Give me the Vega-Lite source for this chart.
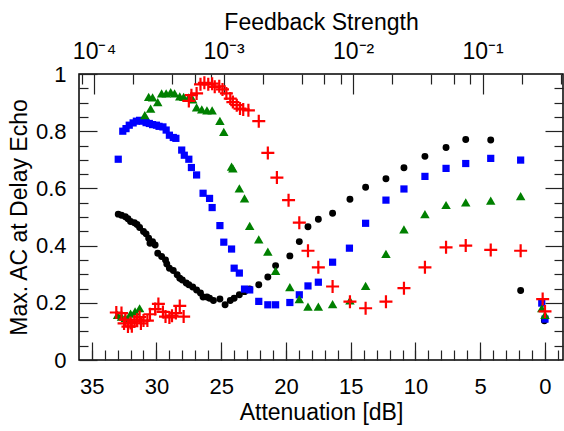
{
  "$schema": "https://vega.github.io/schema/vega-lite/v6.json",
  "width": 484,
  "height": 286,
  "autosize": {"type": "none"},
  "padding": {"left": 79, "top": 74, "right": 1, "bottom": 71},
  "background": "white",
  "config": {
    "view": {"stroke": "#000000", "strokeWidth": 1.5},
    "font": "Liberation Sans",
    "axis": {
      "domain": false, "grid": false,
      "labelFont": "Liberation Sans", "titleFont": "Liberation Sans",
      "labelFontSize": 22, "titleFontSize": 23, "titleFontWeight": "normal",
      "labelColor": "#000000", "titleColor": "#000000",
      "tickColor": "#222222", "tickWidth": 1.2, "labelFlush": false, "labelOverlap": false
    }
  },
  "datasets": {
    "pts": [
      {"s":"S1","a":32.95,"v":0.510},{"s":"S1","a":32.7,"v":0.506},{"s":"S1","a":32.4,"v":0.501},{"s":"S1","a":32.2,"v":0.494},
      {"s":"S1","a":32.0,"v":0.484},{"s":"S1","a":31.7,"v":0.480},{"s":"S1","a":31.5,"v":0.474},{"s":"S1","a":31.3,"v":0.463},
      {"s":"S1","a":31.0,"v":0.449},{"s":"S1","a":30.8,"v":0.441},{"s":"S1","a":30.6,"v":0.426},{"s":"S1","a":30.5,"v":0.408},
      {"s":"S1","a":30.3,"v":0.414},{"s":"S1","a":30.1,"v":0.402},{"s":"S1","a":29.9,"v":0.373},{"s":"S1","a":29.6,"v":0.362},
      {"s":"S1","a":29.3,"v":0.350},{"s":"S1","a":29.2,"v":0.336},{"s":"S1","a":29.0,"v":0.321},{"s":"S1","a":28.7,"v":0.313},
      {"s":"S1","a":28.4,"v":0.298},{"s":"S1","a":28.2,"v":0.286},{"s":"S1","a":28.0,"v":0.280},{"s":"S1","a":27.7,"v":0.269},
      {"s":"S1","a":27.5,"v":0.263},{"s":"S1","a":27.2,"v":0.255},{"s":"S1","a":26.9,"v":0.245},{"s":"S1","a":26.6,"v":0.234},
      {"s":"S1","a":26.4,"v":0.220},{"s":"S1","a":26.1,"v":0.220},{"s":"S1","a":25.9,"v":0.216},{"s":"S1","a":25.6,"v":0.208},
      {"s":"S1","a":25.1,"v":0.213},{"s":"S1","a":24.7,"v":0.193},{"s":"S1","a":24.3,"v":0.208},{"s":"S1","a":24.0,"v":0.216},
      {"s":"S1","a":23.6,"v":0.228},{"s":"S1","a":23.2,"v":0.239},{"s":"S1","a":22.8,"v":0.248},{"s":"S1","a":22.1,"v":0.263},
      {"s":"S1","a":21.4,"v":0.290},{"s":"S1","a":20.8,"v":0.330},{"s":"S1","a":19.7,"v":0.364},{"s":"S1","a":18.97,"v":0.414},
      {"s":"S1","a":18.3,"v":0.466},{"s":"S1","a":17.5,"v":0.492},{"s":"S1","a":16.4,"v":0.513},{"s":"S1","a":15.06,"v":0.562},
      {"s":"S1","a":13.85,"v":0.604},{"s":"S1","a":12.28,"v":0.634},{"s":"S1","a":10.89,"v":0.672},{"s":"S1","a":9.27,"v":0.712},
      {"s":"S1","a":7.64,"v":0.743},{"s":"S1","a":6.12,"v":0.771},{"s":"S1","a":4.19,"v":0.769},{"s":"S1","a":1.88,"v":0.243},
      {"s":"S1","a":0.05,"v":0.137},

      {"s":"S2","a":32.95,"v":0.702},{"s":"S2","a":32.6,"v":0.800},{"s":"S2","a":32.35,"v":0.809},{"s":"S2","a":32.1,"v":0.821},
      {"s":"S2","a":31.8,"v":0.829},{"s":"S2","a":31.55,"v":0.835},{"s":"S2","a":31.3,"v":0.838},{"s":"S2","a":31.1,"v":0.835},
      {"s":"S2","a":30.8,"v":0.830},{"s":"S2","a":30.55,"v":0.827},{"s":"S2","a":30.3,"v":0.823},{"s":"S2","a":30.0,"v":0.821},
      {"s":"S2","a":29.8,"v":0.817},{"s":"S2","a":29.5,"v":0.815},{"s":"S2","a":29.25,"v":0.804},{"s":"S2","a":29.0,"v":0.786},
      {"s":"S2","a":28.7,"v":0.778},{"s":"S2","a":28.5,"v":0.775},{"s":"S2","a":28.05,"v":0.734},{"s":"S2","a":27.85,"v":0.716},
      {"s":"S2","a":27.5,"v":0.702},{"s":"S2","a":27.3,"v":0.673},{"s":"S2","a":26.9,"v":0.647},{"s":"S2","a":26.4,"v":0.583},
      {"s":"S2","a":25.9,"v":0.565},{"s":"S2","a":25.7,"v":0.533},{"s":"S2","a":25.1,"v":0.470},{"s":"S2","a":24.8,"v":0.412},
      {"s":"S2","a":24.2,"v":0.388},{"s":"S2","a":24.0,"v":0.321},{"s":"S2","a":23.6,"v":0.304},{"s":"S2","a":23.2,"v":0.248},
      {"s":"S2","a":22.8,"v":0.245},{"s":"S2","a":22.1,"v":0.205},{"s":"S2","a":21.4,"v":0.193},{"s":"S2","a":20.8,"v":0.193},
      {"s":"S2","a":19.7,"v":0.201},{"s":"S2","a":18.97,"v":0.228},{"s":"S2","a":18.3,"v":0.259},{"s":"S2","a":17.5,"v":0.272},
      {"s":"S2","a":16.4,"v":0.342},{"s":"S2","a":15.1,"v":0.391},{"s":"S2","a":13.85,"v":0.478},{"s":"S2","a":12.28,"v":0.559},
      {"s":"S2","a":10.89,"v":0.598},{"s":"S2","a":9.27,"v":0.642},{"s":"S2","a":7.64,"v":0.670},{"s":"S2","a":6.12,"v":0.687},
      {"s":"S2","a":4.19,"v":0.705},{"s":"S2","a":1.88,"v":0.699},{"s":"S2","a":0.25,"v":0.199},{"s":"S2","a":0.0,"v":0.143},

      {"s":"S3","a":33.0,"v":0.158},{"s":"S3","a":32.7,"v":0.152},{"s":"S3","a":32.4,"v":0.147},{"s":"S3","a":32.2,"v":0.140},
      {"s":"S3","a":32.0,"v":0.162},{"s":"S3","a":31.65,"v":0.170},{"s":"S3","a":31.3,"v":0.181},{"s":"S3","a":30.9,"v":0.856},
      {"s":"S3","a":30.45,"v":0.879},{"s":"S3","a":30.6,"v":0.920},{"s":"S3","a":30.3,"v":0.918},{"s":"S3","a":29.9,"v":0.902},
      {"s":"S3","a":29.6,"v":0.932},{"s":"S3","a":29.25,"v":0.932},{"s":"S3","a":28.9,"v":0.937},{"s":"S3","a":28.6,"v":0.932},
      {"s":"S3","a":28.2,"v":0.922},{"s":"S3","a":27.9,"v":0.920},{"s":"S3","a":27.5,"v":0.918},{"s":"S3","a":27.2,"v":0.911},
      {"s":"S3","a":26.9,"v":0.883},{"s":"S3","a":26.5,"v":0.876},{"s":"S3","a":26.1,"v":0.873},{"s":"S3","a":25.7,"v":0.873},
      {"s":"S3","a":25.1,"v":0.836},{"s":"S3","a":24.8,"v":0.798},{"s":"S3","a":24.2,"v":0.676},{"s":"S3","a":24.1,"v":0.670},
      {"s":"S3","a":23.6,"v":0.600},{"s":"S3","a":23.2,"v":0.565},{"s":"S3","a":22.8,"v":0.469},{"s":"S3","a":22.1,"v":0.422},
      {"s":"S3","a":21.4,"v":0.379},{"s":"S3","a":20.8,"v":0.312},{"s":"S3","a":19.7,"v":0.255},{"s":"S3","a":18.97,"v":0.213},
      {"s":"S3","a":18.3,"v":0.187},{"s":"S3","a":17.5,"v":0.187},{"s":"S3","a":16.4,"v":0.195},{"s":"S3","a":15.06,"v":0.208},
      {"s":"S3","a":13.85,"v":0.259},{"s":"S3","a":12.28,"v":0.371},{"s":"S3","a":10.89,"v":0.457},{"s":"S3","a":9.27,"v":0.510},
      {"s":"S3","a":7.64,"v":0.542},{"s":"S3","a":6.12,"v":0.551},{"s":"S3","a":4.19,"v":0.557},{"s":"S3","a":1.88,"v":0.573},
      {"s":"S3","a":0.25,"v":0.181},{"s":"S3","a":0.0,"v":0.158},

      {"s":"S4","a":33.1,"v":0.166},{"s":"S4","a":32.7,"v":0.164},{"s":"S4","a":32.5,"v":0.128},{"s":"S4","a":32.4,"v":0.141},
      {"s":"S4","a":32.2,"v":0.117},{"s":"S4","a":32.0,"v":0.129},{"s":"S4","a":31.9,"v":0.118},{"s":"S4","a":31.7,"v":0.135},
      {"s":"S4","a":31.5,"v":0.141},{"s":"S4","a":31.3,"v":0.150},{"s":"S4","a":31.2,"v":0.128},{"s":"S4","a":31.0,"v":0.138},
      {"s":"S4","a":30.7,"v":0.138},{"s":"S4","a":30.5,"v":0.160},{"s":"S4","a":30.1,"v":0.178},{"s":"S4","a":29.85,"v":0.196},
      {"s":"S4","a":29.5,"v":0.168},{"s":"S4","a":29.3,"v":0.152},{"s":"S4","a":29.0,"v":0.149},{"s":"S4","a":28.8,"v":0.155},
      {"s":"S4","a":28.5,"v":0.164},{"s":"S4","a":28.2,"v":0.189},{"s":"S4","a":27.9,"v":0.152},{"s":"S4","a":27.5,"v":0.906},
      {"s":"S4","a":27.3,"v":0.926},{"s":"S4","a":26.9,"v":0.932},{"s":"S4","a":26.6,"v":0.964},{"s":"S4","a":26.3,"v":0.969},
      {"s":"S4","a":26.0,"v":0.964},{"s":"S4","a":25.7,"v":0.966},{"s":"S4","a":25.5,"v":0.955},{"s":"S4","a":25.15,"v":0.957},
      {"s":"S4","a":24.9,"v":0.946},{"s":"S4","a":24.6,"v":0.932},{"s":"S4","a":24.3,"v":0.914},{"s":"S4","a":24.1,"v":0.902},
      {"s":"S4","a":23.8,"v":0.891},{"s":"S4","a":23.55,"v":0.879},{"s":"S4","a":23.3,"v":0.876},{"s":"S4","a":22.9,"v":0.873},
      {"s":"S4","a":22.1,"v":0.835},{"s":"S4","a":21.4,"v":0.724},{"s":"S4","a":20.7,"v":0.638},{"s":"S4","a":19.8,"v":0.559},
      {"s":"S4","a":18.97,"v":0.480},{"s":"S4","a":18.3,"v":0.382},{"s":"S4","a":17.5,"v":0.324},{"s":"S4","a":16.4,"v":0.257},
      {"s":"S4","a":15.06,"v":0.204},{"s":"S4","a":13.85,"v":0.181},{"s":"S4","a":12.28,"v":0.204},{"s":"S4","a":10.89,"v":0.251},
      {"s":"S4","a":9.27,"v":0.324},{"s":"S4","a":7.64,"v":0.394},{"s":"S4","a":6.12,"v":0.400},{"s":"S4","a":4.19,"v":0.385},
      {"s":"S4","a":1.88,"v":0.382},{"s":"S4","a":0.18,"v":0.213},{"s":"S4","a":0.0,"v":0.170}
    ],
    "fb": [{"f": 0.0001, "v": 0}, {"f": 0.1, "v": 1}]
  },
  "layer": [
    {
      "data": {"name": "pts"},
      "encoding": {
        "x": {"field": "a", "type": "quantitative",
          "scale": {"domain": [-1.39, 35.98], "reverse": true, "nice": false, "zero": false},
          "axis": {"orient": "bottom", "values": [0,5,10,15,20,25,30,35], "tickSize": -18, "labelPadding": 34,
                   "title": "Attenuation [dB]", "titlePadding": 4}},
        "y": {"field": "v", "type": "quantitative",
          "scale": {"domain": [0, 1], "nice": false, "zero": false},
          "axis": {"orient": "left", "values": [0,0.2,0.4,0.6,0.8,1], "format": "~g", "tickSize": -18, "labelPadding": 31,
                   "title": "Max. AC at Delay Echo", "titlePadding": 4}}
      },
      "layer": [
        {"transform": [{"filter": "datum.s == 'S1'"}],
         "mark": {"type": "point", "shape": "circle", "filled": true, "size": 48, "color": "#000000", "opacity": 1}},
        {"transform": [{"filter": "datum.s == 'S2'"}],
         "mark": {"type": "point", "shape": "square", "filled": true, "size": 52, "color": "#0000ff", "opacity": 1}},
        {"transform": [{"filter": "datum.s == 'S3'"}],
         "mark": {"type": "point", "shape": "triangle-up", "filled": true, "size": 90, "color": "#008000", "opacity": 1}},
        {"transform": [{"filter": "datum.s == 'S4'"}],
         "mark": {"type": "point", "shape": "M-1,0H1M0,-1V1", "filled": false, "size": 169, "strokeWidth": 2.2, "color": "#ff0000", "opacity": 1}}
      ]
    },
    {
      "data": {"name": "pts"},
      "mark": {"type": "point", "opacity": 0},
      "encoding": {
        "x": {"field": "a", "type": "quantitative",
          "scale": {"domain": [-1.39, 35.98], "reverse": true, "nice": false, "zero": false},
          "axis": {"orient": "bottom", "values": [-1,0,1,2,3,4,5,6,7,8,9,10,11,12,13,14,15,16,17,18,19,20,21,22,23,24,25,26,27,28,29,30,31,32,33,34,35],
                   "tickSize": -10, "labels": false, "title": null}},
        "y": {"field": "v", "type": "quantitative",
          "scale": {"domain": [0, 1], "nice": false, "zero": false},
          "axis": {"orient": "left", "values": [0.05,0.1,0.15,0.25,0.3,0.35,0.45,0.5,0.55,0.65,0.7,0.75,0.85,0.9,0.95],
                   "tickSize": -9, "labels": false, "title": null}}
      }
    },
    {
      "data": {"name": "fb"},
      "mark": {"type": "point", "opacity": 0},
      "encoding": {
        "x": {"field": "f", "type": "quantitative",
          "scale": {"type": "log", "domain": [0.00007645, 0.4172], "nice": false},
          "axis": {"orient": "top", "values": [0.0001, 0.001, 0.01, 0.1], "tickSize": -20, "labelPadding": 31, "labelFontSize": 23,
                   "labelExpr": "datum.value < 0.0005 ? '10⁻⁴' : datum.value < 0.005 ? '10⁻³' : datum.value < 0.05 ? '10⁻²' : '10⁻¹'",
                   "title": "Feedback Strength", "titlePadding": 6}},
        "y": {"field": "v", "type": "quantitative",
          "scale": {"domain": [0, 1], "nice": false, "zero": false},
          "axis": {"orient": "right", "values": [0.2,0.4,0.6,0.8], "tickSize": -18, "labels": false, "title": null}}
      }
    },
    {
      "data": {"name": "fb"},
      "mark": {"type": "point", "opacity": 0},
      "encoding": {
        "x": {"field": "f", "type": "quantitative",
          "scale": {"type": "log", "domain": [0.00007645, 0.4172], "nice": false},
          "axis": {"orient": "top", "values": [0.00008,0.0002,0.0004,0.0006,0.0008,0.002,0.004,0.006,0.008,0.02,0.04,0.06,0.08,0.2,0.4],
                   "tickSize": -10, "labels": false, "title": null}},
        "y": {"field": "v", "type": "quantitative",
          "scale": {"domain": [0, 1], "nice": false, "zero": false},
          "axis": {"orient": "right", "values": [0.05,0.1,0.15,0.25,0.3,0.35,0.45,0.5,0.55,0.65,0.7,0.75,0.85,0.9,0.95],
                   "tickSize": -9, "labels": false, "title": null}}
      }
    }
  ],
  "resolve": {"scale": {"x": "independent", "y": "independent"}}
}
